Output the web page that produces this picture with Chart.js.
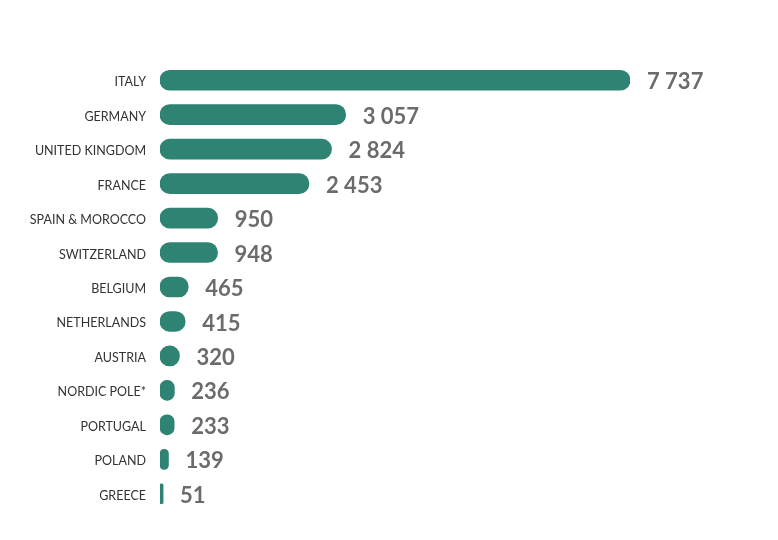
<!DOCTYPE html>
<html>
<head>
<meta charset="utf-8">
<script src="https://cdn.jsdelivr.net/npm/chart.js@4"></script>
<style>
  html, body { margin: 0; padding: 0; background: #fff; }
  #wrap { width: 778px; height: 540px; position: relative; }
</style>
</head>
<body>
<div id="wrap"><canvas id="chart"></canvas></div>
<script>
// Chart data
const countries = ['ITALY', 'GERMANY', 'UNITED KINGDOM', 'FRANCE', 'SPAIN & MOROCCO', 'SWITZERLAND',
    'BELGIUM', 'NETHERLANDS', 'AUSTRIA', 'NORDIC POLE*', 'PORTUGAL', 'POLAND', 'GREECE'];
const values = [7737, 3057, 2824, 2453, 950, 948, 465, 415, 320, 236, 233, 139, 51];

const barColor = '#2e8373';

// thousands separated with a space, e.g. 7 737
function formatValue(v) {
    return String(v).replace(/\B(?=(\d{3})+(?!\d))/g, ' ');
}

// Draw value labels to the right of each bar
const valueLabels = {
    id: 'valueLabels',
    afterDatasetsDraw(chart) {
        const ctx = chart.ctx;
        const meta = chart.getDatasetMeta(0);
        ctx.save();
        ctx.font = 'bold 22px Lato';
        ctx.fillStyle = '#6b6b6b';
        ctx.textAlign = 'left';
        ctx.textBaseline = 'middle';
        meta.data.forEach(function (bar, i) {
            ctx.fillText(formatValue(values[i]), bar.x + 17, bar.y + 2);
        });
        ctx.restore();
    }
};

new Chart(document.getElementById('chart'), {
    type: 'bar',
    data: {
        labels: countries,
        datasets: [{
            data: values,
            backgroundColor: barColor,
            borderRadius: 10,
            borderSkipped: false,
            barThickness: 20
        }]
    },
    options: {
        indexAxis: 'y',
        responsive: true,
        maintainAspectRatio: false,
        animation: false,
        layout: {
            padding: { top: 63, bottom: 29, left: 0, right: 148 }
        },
        plugins: {
            legend: { display: false },
            tooltip: { enabled: false }
        },
        scales: {
            x: {
                min: 0,
                max: 7737,
                display: false
            },
            y: {
                grid: { display: false },
                border: { display: false },
                afterFit: function (scale) { scale.width = 160; },
                ticks: {
                    padding: 6,
                    labelOffset: 2,
                    color: '#333333',
                    font: { family: 'Lato', size: 12.5 }
                }
            }
        }
    },
    plugins: [valueLabels]
});
</script>
</body>
</html>
